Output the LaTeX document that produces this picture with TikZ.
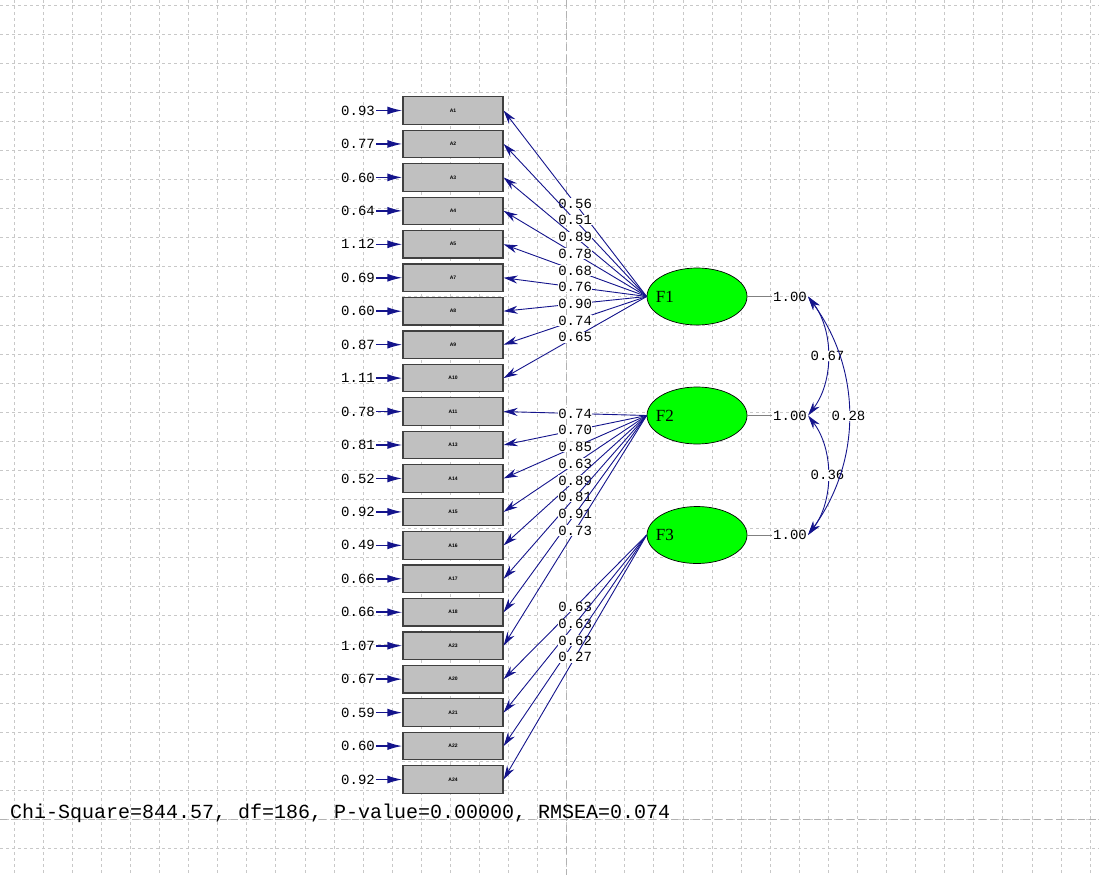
\documentclass[tikz,border=0pt]{standalone}
\usepackage{fontspec}
\setmainfont{Liberation Serif}
\setsansfont{Liberation Sans}
\setmonofont{Liberation Mono}
\usetikzlibrary{arrows.meta,shapes.geometric}
\definecolor{pathblue}{RGB}{20,20,140}
\definecolor{latentgreen}{RGB}{0,255,0}
\definecolor{boxgray}{RGB}{192,192,192}
\definecolor{gridgray}{RGB}{200,200,200}
\tikzset{
  gridline/.style={gridgray, line width=0.6pt, dash pattern=on 3pt off 3pt},
  gridmain/.style={black!30, line width=0.7pt, dash pattern=on 7pt off 4pt},
  observed/.style={shape=rectangle, draw=black!75, line width=1.2pt, fill=boxgray,
    minimum width=100pt, minimum height=27.5pt, inner sep=0pt,
    font=\sffamily\bfseries\fontsize{5}{5}\selectfont},
  latent/.style={shape=ellipse, draw=black, line width=0.7pt, fill=latentgreen,
    minimum width=100pt, minimum height=57pt, inner sep=0pt},
  fname/.style={anchor=west, xshift=9pt, inner sep=0pt, font=\fontsize{17}{17}\selectfont},
  err/.style={anchor=east, inner sep=1pt, font=\ttfamily\fontsize{14}{14}\selectfont},
  coef/.style={fill=white, text=black, inner sep=0.5pt, font=\ttfamily\fontsize{14}{14}\selectfont},
  var/.style={inner sep=1pt, font=\ttfamily\fontsize{14}{14}\selectfont},
  load/.style={-{Stealth[length=14pt,width=8pt]}, pathblue, line width=0.9pt},
  errarrow/.style={-{Latex[length=15pt,width=8pt]}, pathblue, line width=1.6pt},
  cov/.style={{Stealth[length=14pt,width=8pt]}-{Stealth[length=14pt,width=8pt]}, pathblue, line width=0.9pt},
}
\begin{document}
\begin{tikzpicture}[x=1pt, y=-1pt]
\useasboundingbox (0,0) rectangle (1099,875);
% background grid
\foreach \i in {0,...,37} \draw [gridline] ({14+29.08*\i},0) -- ({14+29.08*\i},875);
\foreach \j in {0,...,29} \draw [gridline] (0,{5+29.08*\j}) -- (1099,{5+29.08*\j});
\draw [gridmain] (566.5,0) -- (566.5,875);
\draw [gridmain] (0,819) -- (1099,819);

% observed variables
\node at (453, 110.5) [observed] (A1) {A1};
\node at (453, 143.95) [observed] (A2) {A2};
\node at (453, 177.4) [observed] (A3) {A3};
\node at (453, 210.85) [observed] (A4) {A4};
\node at (453, 244.3) [observed] (A5) {A5};
\node at (453, 277.75) [observed] (A7) {A7};
\node at (453, 311.2) [observed] (A8) {A8};
\node at (453, 344.65) [observed] (A9) {A9};
\node at (453, 378.1) [observed] (A10) {A10};
\node at (453, 411.55) [observed] (A11) {A11};
\node at (453, 445.0) [observed] (A13) {A13};
\node at (453, 478.45) [observed] (A14) {A14};
\node at (453, 511.9) [observed] (A15) {A15};
\node at (453, 545.35) [observed] (A16) {A16};
\node at (453, 578.8) [observed] (A17) {A17};
\node at (453, 612.25) [observed] (A18) {A18};
\node at (453, 645.7) [observed] (A23) {A23};
\node at (453, 679.15) [observed] (A20) {A20};
\node at (453, 712.6) [observed] (A21) {A21};
\node at (453, 746.05) [observed] (A22) {A22};
\node at (453, 779.5) [observed] (A24) {A24};

% error variances
\node at (376, 110.5) [err] (e1) {0.93};
\node at (376, 143.95) [err] (e2) {0.77};
\node at (376, 177.4) [err] (e3) {0.60};
\node at (376, 210.85) [err] (e4) {0.64};
\node at (376, 244.3) [err] (e5) {1.12};
\node at (376, 277.75) [err] (e7) {0.69};
\node at (376, 311.2) [err] (e8) {0.60};
\node at (376, 344.65) [err] (e9) {0.87};
\node at (376, 378.1) [err] (e10) {1.11};
\node at (376, 411.55) [err] (e11) {0.78};
\node at (376, 445.0) [err] (e13) {0.81};
\node at (376, 478.45) [err] (e14) {0.52};
\node at (376, 511.9) [err] (e15) {0.92};
\node at (376, 545.35) [err] (e16) {0.49};
\node at (376, 578.8) [err] (e17) {0.66};
\node at (376, 612.25) [err] (e18) {0.66};
\node at (376, 645.7) [err] (e23) {1.07};
\node at (376, 679.15) [err] (e20) {0.67};
\node at (376, 712.6) [err] (e21) {0.59};
\node at (376, 746.05) [err] (e22) {0.60};
\node at (376, 779.5) [err] (e24) {0.92};
\draw [errarrow] (e1.east) to (A1.west);
\draw [errarrow] (e2.east) to (A2.west);
\draw [errarrow] (e3.east) to (A3.west);
\draw [errarrow] (e4.east) to (A4.west);
\draw [errarrow] (e5.east) to (A5.west);
\draw [errarrow] (e7.east) to (A7.west);
\draw [errarrow] (e8.east) to (A8.west);
\draw [errarrow] (e9.east) to (A9.west);
\draw [errarrow] (e10.east) to (A10.west);
\draw [errarrow] (e11.east) to (A11.west);
\draw [errarrow] (e13.east) to (A13.west);
\draw [errarrow] (e14.east) to (A14.west);
\draw [errarrow] (e15.east) to (A15.west);
\draw [errarrow] (e16.east) to (A16.west);
\draw [errarrow] (e17.east) to (A17.west);
\draw [errarrow] (e18.east) to (A18.west);
\draw [errarrow] (e23.east) to (A23.west);
\draw [errarrow] (e20.east) to (A20.west);
\draw [errarrow] (e21.east) to (A21.west);
\draw [errarrow] (e22.east) to (A22.west);
\draw [errarrow] (e24.east) to (A24.west);

% latent variables
\node at (697, 296.5) [latent, label={[fname]west:F1}] (F1) {};
\node at (697, 415.5) [latent, label={[fname]west:F2}] (F2) {};
\node at (697, 535) [latent, label={[fname]west:F3}] (F3) {};

% loadings
\draw [load] (F1.west) to node [coef] {0.56} (A1.east);
\draw [load] (F1.west) to node [coef] {0.51} (A2.east);
\draw [load] (F1.west) to node [coef] {0.89} (A3.east);
\draw [load] (F1.west) to node [coef] {0.78} (A4.east);
\draw [load] (F1.west) to node [coef] {0.68} (A5.east);
\draw [load] (F1.west) to node [coef] {0.76} (A7.east);
\draw [load] (F1.west) to node [coef] {0.90} (A8.east);
\draw [load] (F1.west) to node [coef] {0.74} (A9.east);
\draw [load] (F1.west) to node [coef] {0.65} (A10.east);
\draw [load] (F2.west) to node [coef] {0.74} (A11.east);
\draw [load] (F2.west) to node [coef] {0.70} (A13.east);
\draw [load] (F2.west) to node [coef] {0.85} (A14.east);
\draw [load] (F2.west) to node [coef] {0.63} (A15.east);
\draw [load] (F2.west) to node [coef] {0.89} (A16.east);
\draw [load] (F2.west) to node [coef] {0.81} (A17.east);
\draw [load] (F2.west) to node [coef] {0.91} (A18.east);
\draw [load] (F2.west) to node [coef] {0.73} (A23.east);
\draw [load] (F3.west) to node [coef] {0.63} (A20.east);
\draw [load] (F3.west) to node [coef] {0.63} (A21.east);
\draw [load] (F3.west) to node [coef] {0.62} (A22.east);
\draw [load] (F3.west) to node [coef] {0.27} (A24.east);

% factor variances and covariances
\node at (790, 296.5) [var] (v1) {1.00};
\node at (790, 415.5) [var] (v2) {1.00};
\node at (790, 535) [var] (v3) {1.00};
\draw [gray, line width=0.6pt] (F1.east) to (v1.west);
\draw [gray, line width=0.6pt] (F2.east) to (v2.west);
\draw [gray, line width=0.6pt] (F3.east) to (v3.west);
\draw [cov] (v1.east) .. controls +(26,34) and +(26,-34) .. node [coef] {0.67} (v2.east);
\draw [cov] (v2.east) .. controls +(26,34) and +(26,-34) .. node [coef] {0.36} (v3.east);
\draw [cov] (v1.east) .. controls +(54,74) and +(54,-74) .. node [coef] {0.28} (v3.east);

% fit statistics
\node at (10, 818) [anchor=base west, inner sep=0pt, font=\ttfamily\fontsize{20}{20}\selectfont] (fit) {Chi-Square=844.57, df=186, P-value=0.00000, RMSEA=0.074};
\end{tikzpicture}
\end{document}
